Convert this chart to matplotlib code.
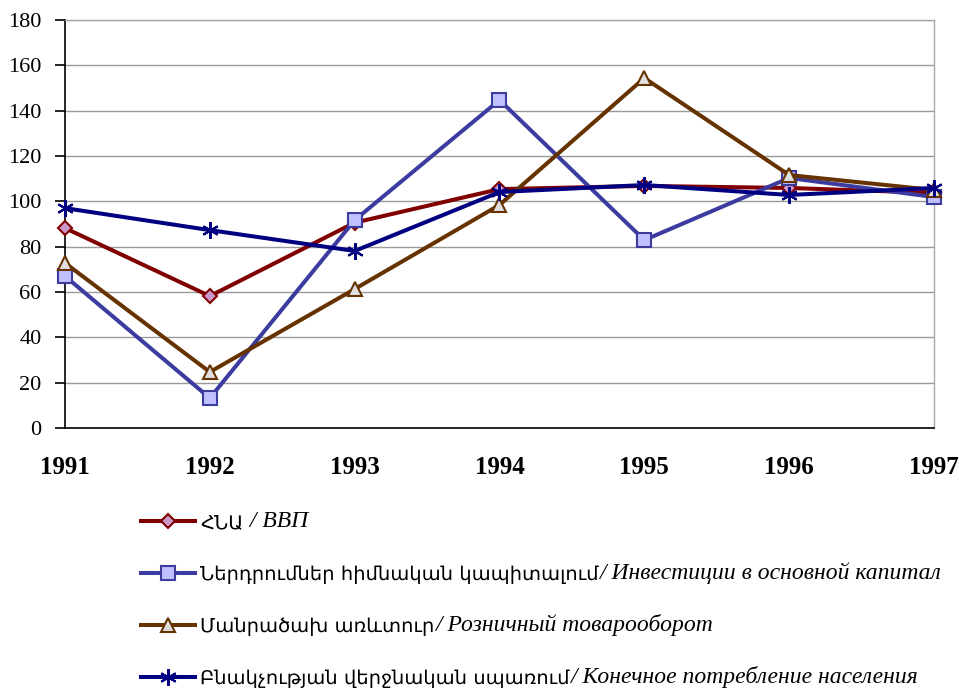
import matplotlib
matplotlib.use("Agg")
import matplotlib.pyplot as plt

years = ["1991", "1992", "1993", "1994", "1995", "1996", "1997"]
gdp = [88.2, 58.2, 90.6, 105.4, 106.8, 105.9, 103.7]
investment = [67.0, 13.2, 91.7, 144.7, 82.9, 110.3, 101.9]
retail = [72.8, 24.7, 61.3, 98.4, 154.4, 111.6, 105.0]
consumption = [97.0, 87.3, 78.1, 104.1, 107.2, 102.8, 105.9]

arm_labels = ["ՀՆԱ", "Ներդրումներ հիմնական կապիտալում", "Մանրածախ առևտուր", "Բնակչության վերջնական սպառում"]
rus_labels = [" / ВВП", "/ Инвестиции в основной капитал", "/ Розничный товарооборот", "/ Конечное потребление населения"]

serif = ["Liberation Serif", "DejaVu Serif"]
arm_font = ["DejaVu Sans Condensed", "DejaVu Sans"]
plt.rcParams["font.family"] = serif

fig = plt.figure(figsize=(9.59, 6.89), dpi=100)
ax = fig.add_axes([65/959, 1-428/689, (934-65)/959, (428-20)/689])

x = list(range(len(years)))
styles = [
    dict(color="#800000", marker="D", mfc="#CC99CC", mec="#800000", ms=7),
    dict(color="#3B3BA0", marker="s", mfc="#C0C0FF", mec="#3B3BA0", ms=10),
    dict(color="#663300", marker="^", mfc="#E0E0E0", mec="#663300", ms=10),
    dict(color="#000080", marker=(6, 2, 0), mfc="#000080", mec="#000080", ms=12),
]
series = [gdp, investment, retail, consumption]
handles = []
for s, st in zip(series, styles):
    h, = ax.plot(x, s, lw=2.9, mew=1.5, zorder=3, clip_on=False, **st)
    handles.append(h)

ax.set_xlim(0, 6)
ax.set_ylim(0, 180)
ax.set_yticks(range(0, 181, 20))
ax.set_xticks(x)
ax.set_xticklabels(years, fontweight="bold", fontsize=18)
ax.tick_params(axis="x", length=0, pad=20)
ax.tick_params(axis="y", length=7, width=1.2, direction="out", labelsize=16, pad=10)
ax.grid(axis="y", color="#999999", lw=1)
ax.set_axisbelow(True)
for side in ["top", "right"]:
    ax.spines[side].set_color("#A8A8A8")
    ax.spines[side].set_linewidth(1)
ax.spines["left"].set_linewidth(1.2)
ax.spines["bottom"].set_linewidth(1.2)

leg = fig.legend(handles, arm_labels, loc="upper left", bbox_to_anchor=(141/959, 1-513/689),
                 frameon=False, prop=dict(family=arm_font, size=14), handlelength=2.8,
                 handletextpad=0.25, labelspacing=1.69, borderaxespad=0, borderpad=0)
for h in leg.legend_handles:
    h.set_linewidth(2.9)
fig.canvas.draw()
for t, r in zip(leg.get_texts(), rus_labels):
    fig.add_artist(plt.Annotation(r, xy=(1, 0), xycoords=t, va="bottom", ha="left",
                                  fontsize=17, fontstyle="italic", family=serif))

fig.savefig("out.png", dpi=100)
